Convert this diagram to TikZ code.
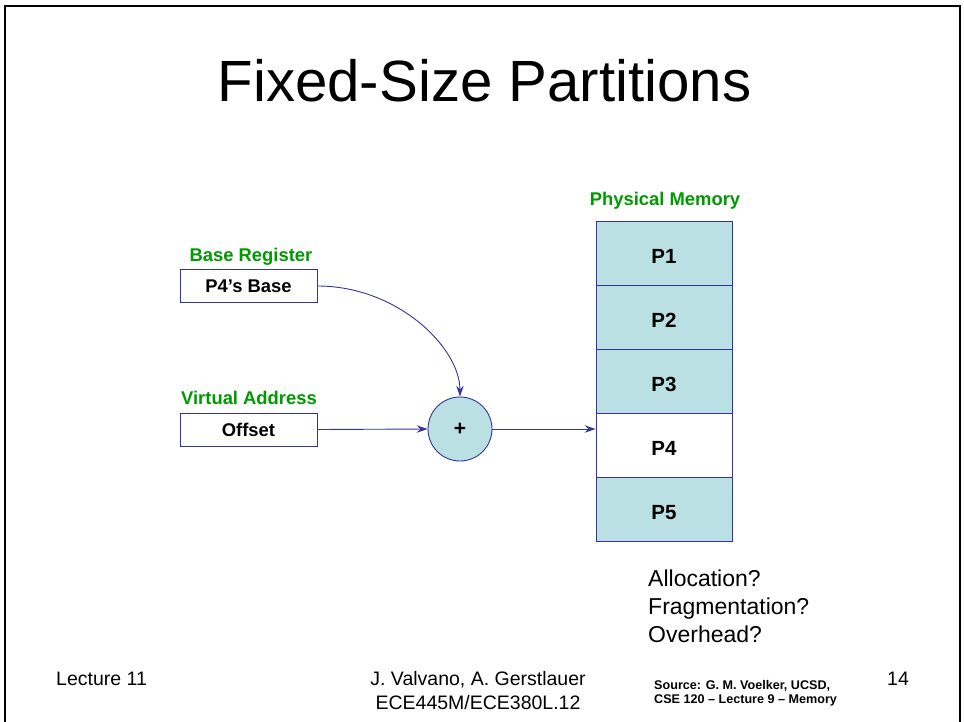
\documentclass[tikz,border=0pt]{standalone}
\usepackage{fontspec}
\setmainfont{Liberation Sans}
\usetikzlibrary{arrows.meta}
\definecolor{fillc}{HTML}{BBE0E3}
\definecolor{linec}{HTML}{333399}
\definecolor{greenc}{HTML}{009900}
\tikzset{
  lbl/.style={text=greenc, font=\fontsize{18.4}{22}\selectfont\bfseries, inner sep=0, anchor=base},
  regbox/.style={draw=linec, line width=0.9, fill=white, minimum width=137, minimum height=33, inner sep=0, font=\fontsize{18.4}{22}\selectfont\bfseries},
  cell/.style={draw=linec, line width=0.9, fill=fillc, minimum width=136, minimum height=64, inner sep=0, text height=20pt, text depth=0pt, font=\fontsize{20.5}{24}\selectfont\bfseries},
  adder/.style={circle, draw=linec, line width=0.9, fill=fillc, minimum size=64, inner sep=0, font=\fontsize{21}{24}\selectfont\bfseries},
  conn/.style={draw=linec, line width=0.9, -{Stealth[length=11,width=7.5,inset=4]}},
  plain/.style={inner sep=0, anchor=base west},
}
\begin{document}
\begin{tikzpicture}[x=1pt,y=-1pt]
\useasboundingbox (0,0) rectangle (964,721);
\draw[line width=2] (4.5,730) -- (4.5,6) -- (960,6) -- (960,730);

\node[inner sep=0, anchor=base, font=\fontsize{58.2}{70}\selectfont] (title) at (484.5,101) {Fixed-Size Partitions};

\node[lbl] (baselbl) at (251,261) {Base Register};
\node[regbox] (base) at (248.5,286) {P4’s Base};
\node[lbl] (vlbl) at (249,404) {Virtual Address};
\node[regbox] (off) at (248.5,429.5) {Offset};

\node[adder] (plus) at (460,429) {+};

\node[lbl] (pmlbl) at (665,205) {Physical Memory};
\node[cell] (p1) at (664,253) {P1};
\node[cell] (p2) at (664,317) {P2};
\node[cell] (p3) at (664,381) {P3};
\node[cell, fill=white] (p4) at (664,445) {P4};
\node[cell] (p5) at (664,509) {P5};

\draw[conn] (off.east) -- (plus.west);
\draw[conn] (plus.east) -- (plus.east -| p4.west);
\draw[conn] (base.east) .. controls (398,286) and (460,348) .. (plus.north);

\node[plain, font=\fontsize{23}{28}\selectfont] (q1) at (648,586) {Allocation?};
\node[plain, font=\fontsize{23}{28}\selectfont] (q2) at (648,614) {Fragmentation?};
\node[plain, font=\fontsize{23}{28}\selectfont] (q3) at (648,642) {Overhead?};

\node[plain, font=\fontsize{19.5}{23}\selectfont] (lec) at (56,685) {Lecture 11};
\node[inner sep=0, anchor=base, font=\fontsize{19.5}{23}\selectfont] (auth1) at (478,685) {J. Valvano, A. Gerstlauer};
\node[inner sep=0, anchor=base, font=\fontsize{19.5}{23}\selectfont] (auth2) at (478,709) {ECE445M/ECE380L.12};
\node[plain, font=\fontsize{12.6}{15}\selectfont\bfseries] (src1) at (654,689) {Source: G. M. Voelker, UCSD,};
\node[plain, font=\fontsize{12.6}{15}\selectfont\bfseries] (src2) at (654,703) {CSE 120 – Lecture 9 – Memory};
\node[plain, font=\fontsize{19.5}{23}\selectfont] (pg) at (887,685) {14};
\end{tikzpicture}
\end{document}
